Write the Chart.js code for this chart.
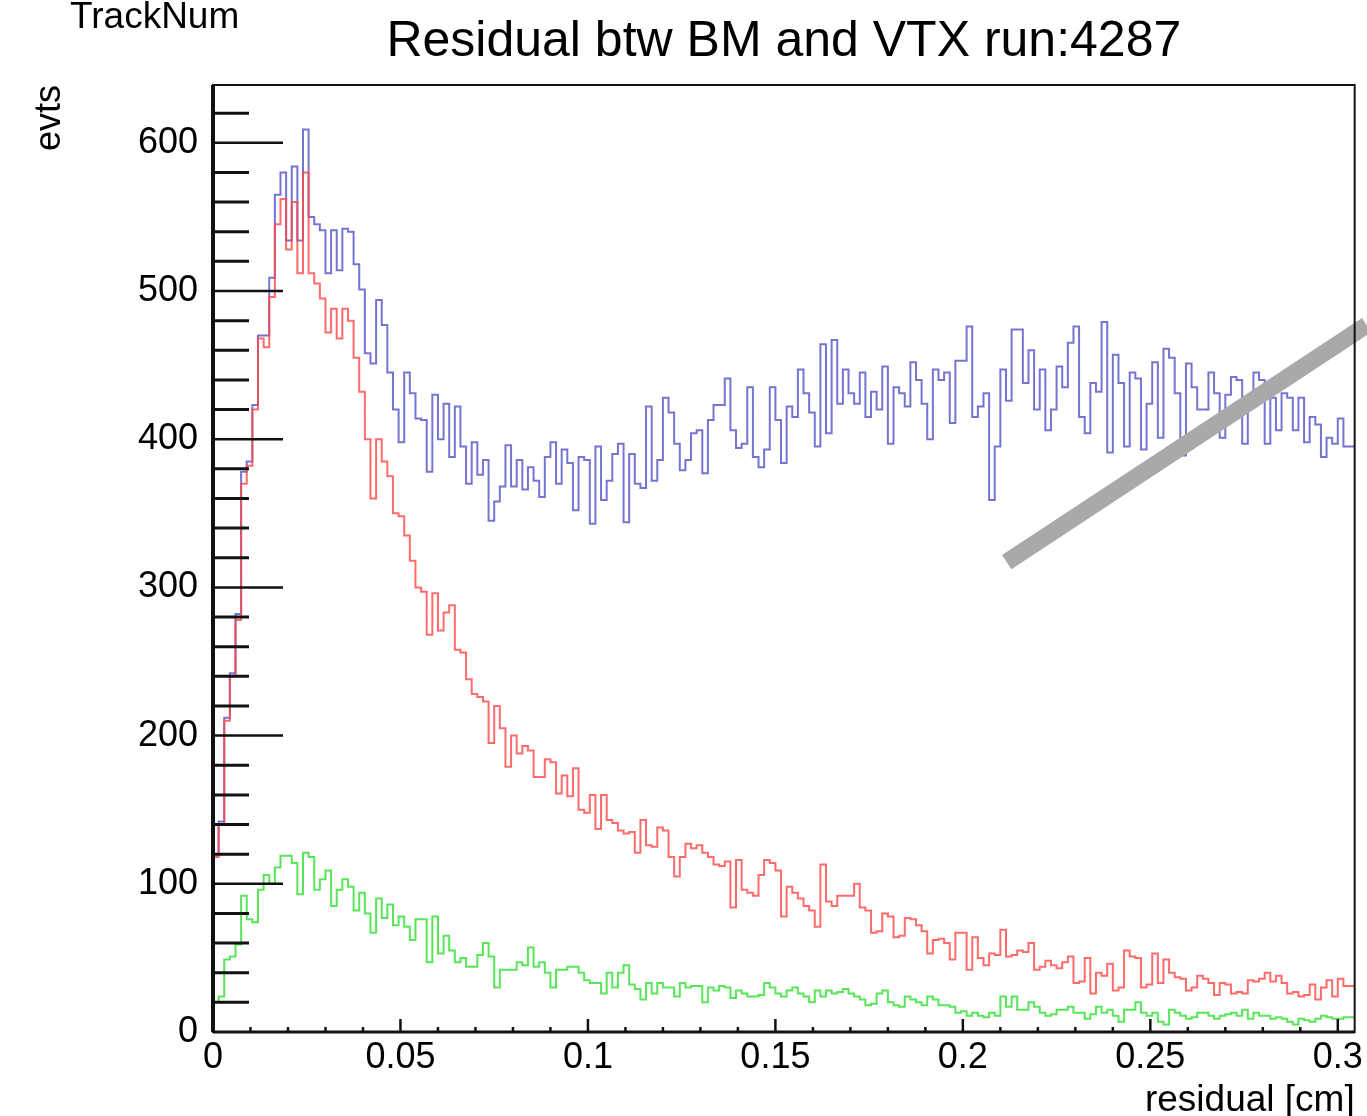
<!DOCTYPE html>
<html>
<head>
<meta charset="utf-8">
<title>Residual btw BM and VTX run:4287</title>
<script src="https://cdn.jsdelivr.net/npm/chart.js@4.4.1/dist/chart.umd.min.js"></script>
<style>
  html, body { margin: 0; padding: 0; background: #fff; }
  #wrap { width: 1367px; height: 1116px; }
</style>
</head>
<body>
<div id="wrap"><canvas id="residualChart" width="1367" height="1116"></canvas></div>
<script>
// histogram binning (cm)
const BIN_WIDTH = 0.0015;
const X_MAX = 0.3045;
const Y_MAX = 639;

const xTicks = [0, 0.05, 0.1, 0.15, 0.2, 0.25, 0.3];
const yTicks = [0, 100, 200, 300, 400, 500, 600];

// counts per bin
const blueCounts = [
  30,120,142,212,242,282,378,385,423,470,
  470,509,565,580,534,584,534,609,550,545,
  541,512,541,514,542,540,518,501,458,451,
  494,477,445,420,398,445,431,414,413,378,
  430,400,424,388,422,395,370,398,376,386,
  345,358,368,396,368,386,366,381,372,361,
  388,398,370,393,384,352,388,386,343,395,
  359,372,390,397,344,390,370,367,422,372,
  386,428,418,397,379,386,404,406,377,413,
  423,423,441,406,394,397,435,388,381,393,
  435,413,384,422,415,447,431,418,395,464,
  404,467,424,447,431,424,445,415,432,420,
  449,397,435,431,422,452,440,424,400,447,
  440,445,411,453,453,476,415,422,431,359,
  395,447,426,474,474,438,460,420,447,406,
  420,449,435,465,476,415,404,438,432,479,
  391,457,438,395,445,441,393,424,452,401,
  461,455,431,389,451,435,420,420,445,431,
  401,430,442,440,397,430,445,440,397,428,
  406,431,428,406,428,398,415,410,388,401,
  397,414,395
];

const redCounts = [
  30,118,140,210,240,278,370,382,420,468,
  462,496,545,562,528,560,512,580,512,505,
  495,472,488,468,488,480,455,432,400,360,
  400,385,375,350,348,335,318,300,297,268,
  296,271,283,288,258,256,238,228,226,223,
  195,220,205,179,200,188,193,190,172,172,
  184,182,161,173,159,178,150,148,160,137,
  160,143,141,136,134,135,121,143,126,125,
  138,136,118,105,118,127,124,126,121,118,
  113,112,115,84,116,96,94,92,106,116,
  114,109,78,98,94,90,85,82,71,113,
  88,85,92,92,92,100,84,82,67,68,
  80,78,64,65,77,76,72,68,53,62,
  63,60,49,67,67,42,64,50,45,53,
  52,69,51,52,55,54,60,42,44,48,
  45,43,47,51,33,34,50,26,40,38,
  46,28,30,55,51,50,30,32,53,33,
  49,40,37,36,28,30,38,36,33,25,
  33,32,26,27,26,35,34,36,40,34,
  38,33,26,27,24,25,32,22,30,35,
  24,36,31
];

const greenCounts = [
  8,20,24,49,51,59,92,76,74,96,
  106,100,111,119,119,114,93,121,118,96,
  103,109,85,96,103,98,82,94,80,67,
  90,77,86,72,78,71,62,76,76,47,
  78,53,65,55,47,50,44,44,52,60,
  51,30,42,42,42,47,45,57,44,47,
  40,30,42,42,44,44,40,35,33,33,
  26,40,30,40,45,32,29,22,33,26,
  33,30,30,24,33,30,31,31,20,30,
  28,31,30,23,28,26,24,24,25,33,
  30,26,24,28,30,26,24,20,28,24,
  28,26,27,29,26,24,22,18,19,26,
  28,20,18,17,24,22,20,18,24,22,
  18,18,17,13,14,11,13,11,10,13,
  11,24,17,24,15,15,20,17,13,11,
  12,15,15,17,13,13,9,12,17,13,
  15,11,7,15,15,20,13,11,13,7,
  5,15,13,11,9,10,13,13,11,9,
  11,12,13,11,15,9,13,11,11,9,
  10,9,7,5,9,8,7,9,11,10,
  9,9,10
];

// grey marker stroke across the upper right, in axis units
const markerX = [0.2117, 0.3077];
const markerY = [317, 477];

const FONT = "'Liberation Sans', Arial, Helvetica, sans-serif";

// turn bin contents into a step outline starting from zero
function histPoints(counts) {
  const pts = [{ x: 0, y: 0 }];
  counts.forEach((c, i) => pts.push({ x: i * BIN_WIDTH, y: c }));
  pts.push({ x: counts.length * BIN_WIDTH, y: counts[counts.length - 1] });
  return pts;
}

function histDataset(counts, color, order) {
  return {
    data: histPoints(counts),
    borderColor: color,
    borderWidth: 2,
    stepped: 'after',
    pointRadius: 0,
    fill: false,
    order: order
  };
}

// ROOT style frame with tick marks pointing inward
const rootFrame = {
  id: 'rootFrame',
  afterDraw(chart) {
    const { ctx, chartArea: a } = chart;
    const xs = chart.scales.x, ys = chart.scales.y;
    ctx.save();
    ctx.strokeStyle = '#111';

    ctx.lineWidth = 3;
    for (let k = 1; k * 20 <= Y_MAX; k++) {
      const py = ys.getPixelForValue(k * 20);
      const major = k % 5 === 0;
      ctx.lineWidth = major ? 2.5 : 3;
      ctx.beginPath();
      ctx.moveTo(a.left, py);
      ctx.lineTo(a.left + (major ? 70 : 36), py);
      ctx.stroke();
    }

    ctx.lineWidth = 2.5;
    for (let k = 1; k * 0.01 <= X_MAX; k++) {
      const px = xs.getPixelForValue(k * 0.01);
      const major = k % 5 === 0;
      ctx.beginPath();
      ctx.moveTo(px, a.bottom);
      ctx.lineTo(px, a.bottom - (major ? 13 : 5));
      ctx.stroke();
    }

    // frame
    ctx.lineWidth = 2;
    ctx.strokeRect(a.left, a.top, a.right - a.left, a.bottom - a.top);
    ctx.lineWidth = 4;
    ctx.beginPath();
    ctx.moveTo(a.left, a.top);
    ctx.lineTo(a.left, a.bottom);
    ctx.stroke();
    ctx.lineWidth = 3;
    ctx.beginPath();
    ctx.moveTo(a.left, a.bottom);
    ctx.lineTo(a.right, a.bottom);
    ctx.stroke();

    ctx.fillStyle = '#000';
    ctx.font = '37px ' + FONT;
    ctx.textBaseline = 'alphabetic';
    ctx.textAlign = 'left';
    ctx.fillText('TrackNum', 70, 28);
    ctx.restore();
  }
};

const ctx = document.getElementById('residualChart').getContext('2d');
new Chart(ctx, {
  type: 'line',
  data: {
    datasets: [
      {
        data: markerX.map((x, i) => ({ x: x, y: markerY[i] })),
        borderColor: '#a9a9a9',
        borderWidth: 17,
        borderCapStyle: 'butt',
        pointRadius: 0,
        clip: false,
        order: 0
      },
      histDataset(greenCounts, 'rgba(60, 225, 60, 0.85)', 1),
      histDataset(redCounts, 'rgba(255, 70, 70, 0.8)', 2),
      histDataset(blueCounts, 'rgba(70, 70, 195, 0.75)', 3)
    ]
  },
  options: {
    responsive: false,
    animation: false,
    layout: { padding: { left: 0, right: 11, top: 0, bottom: 0 } },
    plugins: {
      legend: { display: false },
      tooltip: { enabled: false },
      title: {
        display: true,
        fullSize: false,
        text: 'Residual btw BM and VTX run:4287',
        color: '#000',
        font: { family: FONT, size: 50, weight: 'normal', lineHeight: 1.2 },
        padding: { top: 12, bottom: 13 }
      }
    },
    scales: {
      x: {
        type: 'linear',
        min: 0,
        max: X_MAX,
        afterFit: (s) => { s.height = 84; },
        afterBuildTicks: (s) => { s.ticks = xTicks.map(v => ({ value: v })); },
        grid: { display: false, drawTicks: false },
        border: { display: false },
        ticks: {
          color: '#000',
          padding: 4,
          autoSkip: false,
          maxRotation: 0,
          font: { family: FONT, size: 36 },
          callback: (v) => String(Number(v.toFixed(3)))
        },
        title: {
          display: true,
          text: 'residual [cm]',
          align: 'end',
          color: '#000',
          font: { family: FONT, size: 37, lineHeight: 1 },
          padding: { top: 0, bottom: -3 }
        }
      },
      y: {
        min: 0,
        max: Y_MAX,
        afterFit: (s) => { s.width = 213; },
        afterBuildTicks: (s) => { s.ticks = yTicks.map(v => ({ value: v })); },
        grid: { display: false, drawTicks: false },
        border: { display: false },
        ticks: {
          color: '#000',
          padding: 15,
          font: { family: FONT, size: 36 }
        },
        title: {
          display: true,
          text: 'evts',
          align: 'end',
          color: '#000',
          font: { family: FONT, size: 36, lineHeight: 1 },
          padding: { top: 32, bottom: 0 }
        }
      }
    }
  },
  plugins: [rootFrame]
});
</script>
</body>
</html>
